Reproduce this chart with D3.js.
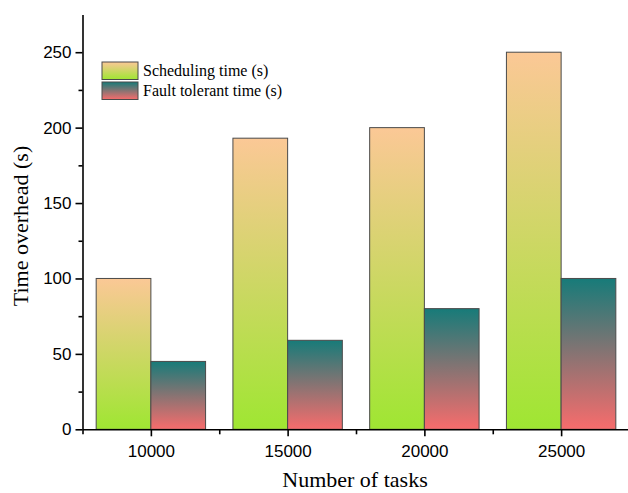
<!DOCTYPE html>
<html>
<head>
<meta charset="utf-8">
<script src="https://cdn.jsdelivr.net/npm/d3@7"></script>
<style>
  html, body { margin: 0; padding: 0; background: #fff; }
  svg { display: block; }
</style>
</head>
<body>
<svg id="chart" width="628" height="493"></svg>
<script>
// Task counts on the x axis and the two measured times per count
const taskCounts = [10000, 15000, 20000, 25000];
const schedulingTime = [100, 193, 200, 250];
const faultTolerantTime = [45, 59, 80, 100];
const seriesNames = ["Scheduling time (s)", "Fault tolerant time (s)"];
const yTicks = [0, 50, 100, 150, 200, 250];

const svg = d3.select("#chart");

const x = d3.scaleLinear().domain([7500, 27500]).range([82.5, 629.5]);
const y = d3.scaleLinear().domain([0, 275]).range([429.3, 14.5]);
const barSpan = 2000; // each bar covers 2000 tasks in x units

// Vertical gradients, one per series, stretched over each bar
const defs = svg.append("defs");
const gradients = [
  { id: "gradSched", top: "#fbc896", bottom: "#9fe632" },
  { id: "gradFault", top: "#177b79", bottom: "#f86c6c" }
];
gradients.forEach(g => {
  const lg = defs.append("linearGradient")
    .attr("id", g.id).attr("x1", 0).attr("y1", 0).attr("x2", 0).attr("y2", 1);
  lg.append("stop").attr("offset", "0%").attr("stop-color", g.top);
  lg.append("stop").attr("offset", "100%").attr("stop-color", g.bottom);
});

const rows = taskCounts.map((t, i) => ({ t, s: schedulingTime[i], f: faultTolerantTime[i] }));

// Scheduling bars sit left of each tick, fault tolerant bars right of it
svg.append("g").selectAll("rect").data(rows).join("rect")
  .attr("x", d => x(d.t - barSpan))
  .attr("y", d => y(d.s))
  .attr("width", d => x(d.t) - x(d.t - barSpan))
  .attr("height", d => y(0) - y(d.s))
  .attr("fill", "url(#gradSched)")
  .attr("stroke", "#4a4a4a").attr("stroke-width", 1);

svg.append("g").selectAll("rect").data(rows).join("rect")
  .attr("x", d => x(d.t))
  .attr("y", d => y(d.f))
  .attr("width", d => x(d.t + barSpan) - x(d.t))
  .attr("height", d => y(0) - y(d.f))
  .attr("fill", "url(#gradFault)")
  .attr("stroke", "#4a4a4a").attr("stroke-width", 1);

// Axes
const tickFont = "'Liberation Sans', Arial, sans-serif";

svg.append("g").attr("transform", "translate(82.5,0)")
  .call(d3.axisLeft(y).tickValues(yTicks).tickSize(7).tickPadding(4).tickSizeOuter(0));
svg.append("g").attr("transform", "translate(82.5,0)")
  .call(d3.axisLeft(y).tickValues(d3.range(25, 275, 50)).tickSize(4).tickFormat("").tickSizeOuter(0))
  .select(".domain").remove();

const xAxis = svg.append("g").attr("transform", "translate(0,429.3)")
  .call(d3.axisBottom(x).tickValues(taskCounts).tickSize(7).tickPadding(9)
    .tickFormat(d3.format("d")).tickSizeOuter(0));
svg.append("g").attr("transform", "translate(0,429.3)")
  .call(d3.axisBottom(x).tickValues([7500, 12500, 17500, 22500]).tickSize(5).tickFormat("").tickSizeOuter(0))
  .select(".domain").remove();

svg.selectAll(".domain").attr("stroke", "#000").attr("stroke-width", 1.6);
svg.selectAll(".tick line").attr("stroke", "#000").attr("stroke-width", 1.6);
svg.selectAll(".tick text").attr("fill", "#000")
  .style("font-family", tickFont).style("font-size", "17px");
xAxis.selectAll(".tick text").attr("dy", "0.71em");

// Axis titles
const serif = "'Liberation Serif', 'Times New Roman', serif";
svg.append("text")
  .attr("x", 355).attr("y", 487)
  .attr("text-anchor", "middle")
  .style("font-family", serif).style("font-size", "22px").attr("fill", "#000")
  .text("Number of tasks");

svg.append("text")
  .attr("transform", "translate(28,226) rotate(-90)")
  .attr("text-anchor", "middle")
  .style("font-family", serif).style("font-size", "22px").attr("fill", "#000")
  .text("Time overhead (s)");

// Legend
const legend = svg.append("g").attr("transform", "translate(102,62)");
seriesNames.forEach((name, i) => {
  const row = legend.append("g").attr("transform", `translate(0,${i * 20})`);
  row.append("rect")
    .attr("width", 36).attr("height", 17.5)
    .attr("fill", `url(#${gradients[i].id})`)
    .attr("stroke", "#4a4a4a").attr("stroke-width", 1);
  row.append("text")
    .attr("x", 41).attr("y", 14)
    .style("font-family", serif).style("font-size", "16px").attr("fill", "#000")
    .text(name);
});
</script>
</body>
</html>
